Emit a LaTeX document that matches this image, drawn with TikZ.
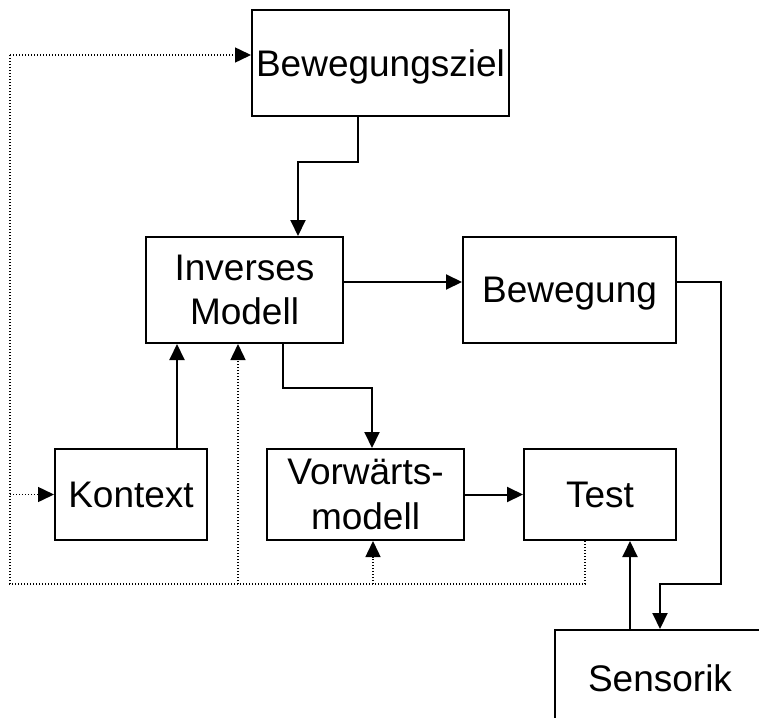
\documentclass[tikz,border=0pt]{standalone}
\usepackage{fontspec}
\setmainfont{Liberation Sans}
\usetikzlibrary{arrows.meta}
\begin{document}
\begin{tikzpicture}[x=1pt,y=-1pt,
  box/.style={draw, line width=2pt, inner sep=0pt, align=center,
    font=\fontsize{37pt}{44.5pt}\selectfont},
  onebox/.style={box, text depth=0pt},
  conn/.style={line width=2pt},
  arr/.style={conn, -{Triangle[length=16pt,width=15pt]}},
  dots/.style={line width=1.5pt, dash pattern=on 1.3pt off 1.7pt},
  dotarr/.style={dots, -{Triangle[length=16pt,width=15pt]}}]
\useasboundingbox (0,0) rectangle (759,717);
\clip (0,0) rectangle (759,717);

% blocks
\node[onebox, minimum width=257pt, minimum height=106pt] (ziel) at (380.5,63) {Bewegungsziel};
\node[box,    minimum width=197pt, minimum height=106pt] (inv)  at (244.5,290) {Inverses\\Modell};
\node[onebox, minimum width=213pt, minimum height=106pt] (bew)  at (569.5,290) {Bewegung};
\node[onebox, minimum width=152pt, minimum height=91pt]  (kon)  at (131,494.5) {Kontext};
\node[box,    minimum width=197pt, minimum height=91pt]  (vor)  at (365.5,494.5) {Vorwärts-\\modell};
\node[onebox, minimum width=152pt, minimum height=91pt]  (test) at (600,494.5) {Test};
\node[onebox, minimum width=210pt, minimum height=96pt]  (sens) at (660,678) {Sensorik};

% routing points
\coordinate (z1) at (358,162);
\coordinate (z2) at (298,162);
\coordinate (i1) at (283,388);
\coordinate (i2) at (372,388);
\coordinate (b1) at (721,282);
\coordinate (b2) at (721,584);
\coordinate (b3) at (660,584);
\coordinate (s1) at (630,0);
\coordinate (k1) at (177,0);
\coordinate (t1) at (585,584);
\coordinate (f1) at (10,584);
\coordinate (f2) at (10,494.5);
\coordinate (f3) at (10,55);
\coordinate (f4) at (238,584);
\coordinate (f5) at (373,584);

% solid connectors
\draw[arr] (ziel.south -| z1) -- (z1) -- (z2) -- (inv.north -| z2);
\draw[arr] ([yshift=8pt]inv.east) -- ([yshift=8pt]bew.west);
\draw[arr] ([yshift=8pt]bew.east) -- (b1) -- (b2) -- (b3) -- (sens.north -| b3);
\draw[arr] (sens.north -| s1) -- (test.south -| s1);
\draw[arr] (kon.north -| k1) -- (inv.south -| k1);
\draw[arr] (inv.south -| i1) -- (i1) -- (i2) -- (vor.north -| i2);
\draw[arr] (vor.east) -- (test.west);

% dotted feedback from the test
\draw[dots] (test.south -| t1) -- (t1) -- (f1) -- (f3);
\draw[dotarr] (f3) -- (ziel.west |- f3);
\draw[dotarr] (f2) -- (kon.west);
\draw[dotarr] (f4) -- (inv.south -| f4);
\draw[dotarr] (f5) -- (vor.south -| f5);
\end{tikzpicture}
\end{document}
